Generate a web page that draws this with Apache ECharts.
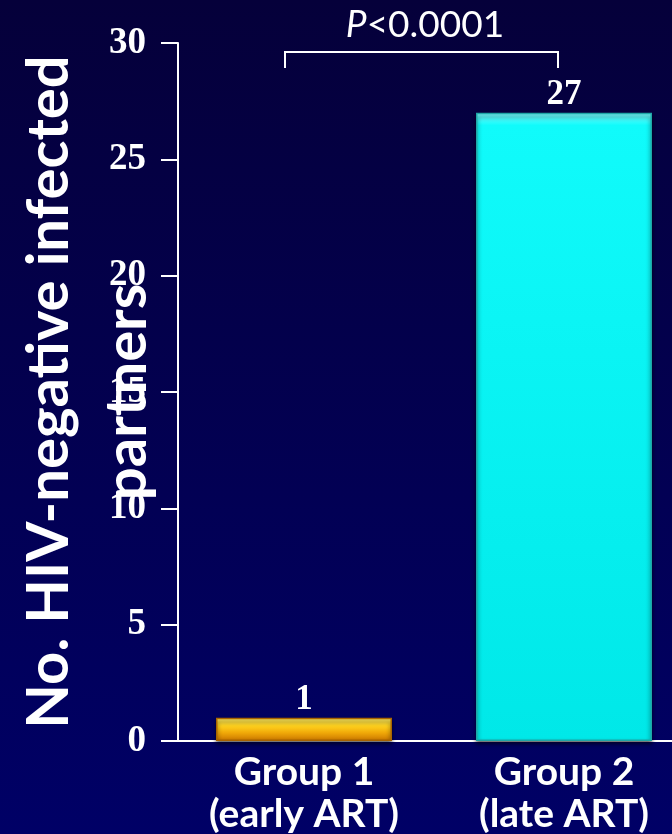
<!DOCTYPE html>
<html>
<head>
<meta charset="utf-8">
<script src="https://cdn.jsdelivr.net/npm/echarts@6/dist/echarts.min.js"></script>
<style>
html,body{margin:0;padding:0;width:672px;height:834px;overflow:hidden;}
#chart{width:672px;height:834px;}
</style>
</head>
<body>
<div id="chart"></div>
<script>
const categories = ['Group 1\n(early ART)', 'Group 2\n(late ART)'];
const values = [1, 27];
const yTicks = {min: 0, max: 30, interval: 5};
const yTitle = 'No. HIV-negative infected\npartners';
const pText = 'P<0.0001';

const chart = echarts.init(document.getElementById('chart'));
const goldFill = new echarts.graphic.LinearGradient(0, 0, 0, 1, [
  {offset: 0, color: '#fff06a'},
  {offset: 0.35, color: '#ffd21e'},
  {offset: 0.65, color: '#f0a808'},
  {offset: 1, color: '#c87400'}
]);
const cyanFill = new echarts.graphic.LinearGradient(0, 0, 0, 1, [
  {offset: 0, color: '#7ffcff'},
  {offset: 0.02, color: '#10fbfb'},
  {offset: 1, color: '#00e8e8'}
]);
const styles = [
  {color: goldFill, borderColor: '#a86400', borderWidth: 1.5, shadowBlur: 4, shadowColor: 'rgba(0,0,0,0.6)', shadowOffsetY: 3},
  {color: cyanFill, borderColor: '#1fa6a6', borderWidth: 1.5, shadowBlur: 4, shadowColor: 'rgba(0,0,0,0.6)', shadowOffsetY: 3}
];

chart.setOption({
  backgroundColor: new echarts.graphic.LinearGradient(0, 0, 0, 1, [
    {offset: 0, color: '#05003a'},
    {offset: 1, color: '#000066'}
  ]),
  animation: false,
  grid: {left: 174, width: 520, top: 43, bottom: 93, containLabel: false, outerBoundsMode: 'none'},
  xAxis: {
    type: 'category',
    data: categories,
    axisLine: {lineStyle: {color: '#ffffff', width: 2}},
    axisTick: {show: false},
    axisLabel: {
      color: '#ffffff', fontFamily: 'Lato', fontWeight: 'bold', fontSize: 39,
      lineHeight: 42, margin: 10, interval: 0
    }
  },
  yAxis: {
    type: 'value',
    min: yTicks.min, max: yTicks.max, interval: yTicks.interval,
    offset: -4,
    axisLine: {show: true, lineStyle: {color: '#ffffff', width: 2}},
    axisTick: {show: true, length: 17, lineStyle: {color: '#ffffff', width: 2}},
    splitLine: {show: false},
    axisLabel: {
      color: '#ffffff', fontFamily: 'Liberation Serif', fontWeight: 'bold', fontSize: 37, margin: 32
    },
    name: yTitle,
    nameLocation: 'middle',
    nameRotate: 90,
    nameGap: 12,
    nameMoveOverlap: false,
    nameTextStyle: {
      color: '#ffffff', fontFamily: 'Lato', fontWeight: 'bold', fontSize: 58, lineHeight: 78, align: 'center'
    }
  },
  series: [{
    type: 'bar',
    barWidth: 176,
    data: values.map((v, i) => ({value: v, itemStyle: styles[i]})),
    label: {
      show: true, position: 'top', distance: 0,
      color: '#ffffff', fontFamily: 'Liberation Serif', fontWeight: 'bold', fontSize: 35
    }
  }],
  graphic: [
    {
      type: 'text', x: 425, y: 25,
      style: {
        text: '{i|P}{n|<0.0001}',
        align: 'center', verticalAlign: 'middle',
        rich: {
          i: {fontFamily: 'Lato', fontStyle: 'italic', fontSize: 37, fill: '#ffffff'},
          n: {fontFamily: 'Lato', fontSize: 37, fill: '#ffffff'}
        }
      }
    },
    {
      type: 'polyline',
      shape: {points: [[285, 68], [285, 52], [558, 52], [558, 68]]},
      style: {stroke: '#ffffff', lineWidth: 2, fill: null}
    }
  ]
});
</script>
</body>
</html>
